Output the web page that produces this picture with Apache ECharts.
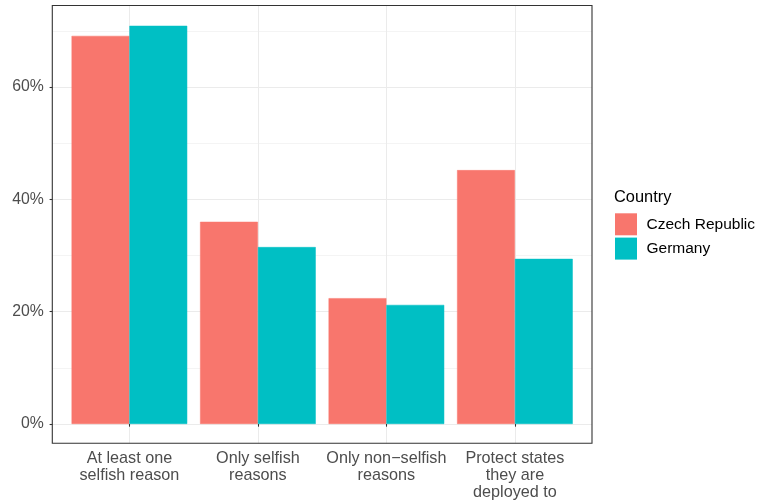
<!DOCTYPE html>
<html>
<head>
<meta charset="utf-8">
<script src="https://cdn.jsdelivr.net/npm/echarts@6/dist/echarts.min.js"></script>
<style>html,body{margin:0;padding:0;background:#fff;}#c{width:762px;height:504px;}</style>
</head>
<body>
<div id="c"></div>
<script>
const categories = ['At least one\nselfish reason', 'Only selfish\nreasons', 'Only non\u2212selfish\nreasons', 'Protect states\nthey are\ndeployed to'];
const seriesNames = ['Czech Republic', 'Germany'];
const czech = [69.1, 36.0, 22.4, 45.2];
const germany = [70.9, 31.5, 21.2, 29.4];
const yMajorTicks = [0, 20, 40, 60];
const yMinorTicks = [10, 30, 50, 70];
const legendTitle = 'Country';
const colors = ['#F8766D', '#00BFC4'];

const FONT = '"Liberation Sans", Arial, sans-serif';
const chart = echarts.init(document.getElementById('c'), null, {renderer: 'canvas'});

const option = {
  animation: false,
  backgroundColor: '#ffffff',
  grid: [
    {left: 52.3, right: 170, top: 5.5, bottom: 60.7, show: true, borderColor: '#333333', borderWidth: 1.1, backgroundColor: 'transparent', containLabel: false, z: 5},
    {left: 52.3, right: 170, top: 87.0, bottom: 80, containLabel: false},
    {left: 65.15, right: 182.85, top: 5.5, bottom: 60.7, containLabel: false},
    {left: 52.3, right: 170, top: 30.83, bottom: 136.17, containLabel: false}
  ],
  xAxis: [
    {gridIndex: 0, type: 'value', min: 0, max: 1, show: false},
    {gridIndex: 1, type: 'value', min: 0, max: 1, show: false},
    {gridIndex: 2, type: 'category', data: categories,
      axisLine: {show: false},
      axisTick: {show: true, alignWithLabel: true, length: 2.7, lineStyle: {color: '#333333', width: 1.07}},
      axisLabel: {interval: 0, color: '#4D4D4D', fontSize: 16.2, fontFamily: FONT, lineHeight: 17.2, margin: 6.5, align: 'center'},
      splitLine: {show: false}},
    {gridIndex: 3, type: 'value', min: 0, max: 1, show: false}
  ],
  yAxis: [
    {gridIndex: 0, type: 'value', min: 0, max: 1, show: false},
    {gridIndex: 1, type: 'value', min: yMajorTicks[0], max: yMajorTicks[yMajorTicks.length - 1], interval: yMajorTicks[1] - yMajorTicks[0],
      axisLine: {show: false},
      axisTick: {show: true, length: 2.7, lineStyle: {color: '#333333', width: 1.07}},
      axisLabel: {color: '#4D4D4D', fontSize: 15.8, fontFamily: FONT, margin: 8.5,
        showMinLabel: true, showMaxLabel: true,
        formatter: v => v + '%'},
      splitLine: {show: true, lineStyle: {color: '#EBEBEB', width: 1.07}}},
    {gridIndex: 2, type: 'value', min: -3.44, max: 74.51, show: false},
    {gridIndex: 3, type: 'value', min: yMinorTicks[0], max: yMinorTicks[yMinorTicks.length - 1], interval: yMinorTicks[1] - yMinorTicks[0],
      axisLine: {show: false}, axisTick: {show: false}, axisLabel: {show: false},
      splitLine: {show: true, lineStyle: {color: '#EBEBEB', width: 0.53}}}
  ],
  legend: {
    data: seriesNames,
    orient: 'vertical',
    left: 615, top: 213.3, padding: 0,
    itemWidth: 22, itemHeight: 22, itemGap: 2.3,
    icon: 'rect',
    itemStyle: {borderWidth: 0},
    textStyle: {color: '#000000', fontSize: 15.5, fontFamily: FONT, padding: [0, 0, 0, 4.5]}
  },
  graphic: [
    {type: 'text', left: 614, top: 189.8, style: {text: legendTitle, fill: '#000000', fontSize: 16.4, fontFamily: FONT}}
  ],
  series: [
    {type: 'line', xAxisIndex: 2, yAxisIndex: 2, data: [], z: 0, silent: true,
      markLine: {z: 0, silent: true, symbol: 'none', label: {show: false}, animation: false,
        lineStyle: {color: '#EBEBEB', width: 1.07, type: 'solid'},
        emphasis: {disabled: true},
        data: categories.map(c => ({xAxis: c}))}},
    {name: seriesNames[0], type: 'bar', xAxisIndex: 2, yAxisIndex: 2, data: czech, z: 3,
      itemStyle: {color: colors[0], borderColor: colors[0], borderWidth: 0.5}, barGap: '0%', barCategoryGap: '10%'},
    {name: seriesNames[1], type: 'bar', xAxisIndex: 2, yAxisIndex: 2, data: germany, z: 3,
      itemStyle: {color: colors[1], borderColor: colors[1], borderWidth: 0.5}, barGap: '0%', barCategoryGap: '10%'}
  ]
};
chart.setOption(option);
</script>
</body>
</html>
